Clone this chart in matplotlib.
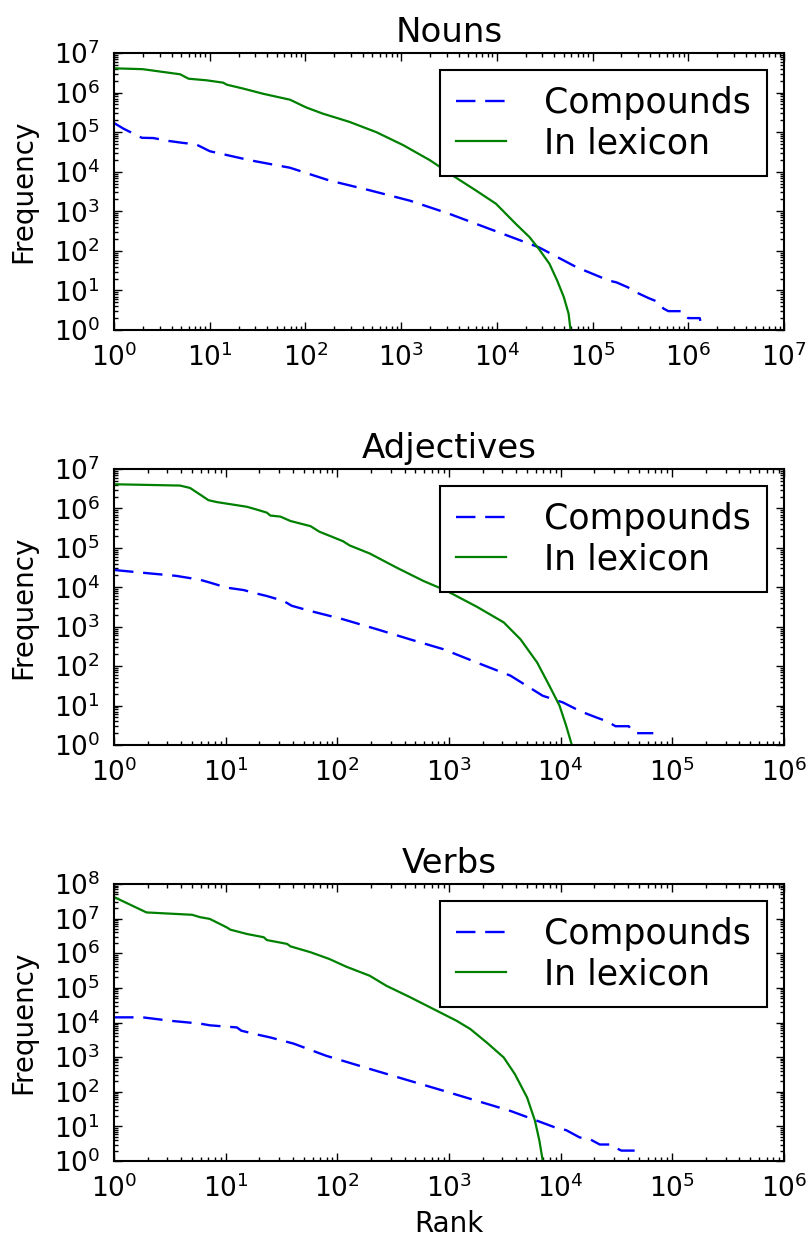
import numpy as np
import matplotlib
matplotlib.use('Agg')
import matplotlib.pyplot as plt
from matplotlib import ticker

# values (rank, frequency)
nouns_comp_rank = [1, 1.25, 1.95, 2.57, 3.7, 5.1, 7.2, 8.9, 10, 26.3, 69, 178, 468, 1230,
                   3160, 8300, 27500, 67600, 1.48e5, 1.78e5, 2.34e5, 3.0e5, 3.8e5, 4.5e5,
                   5.0e5, 5.5e5, 6.2e5, 8.7e5, 9.5e5, 1.0e6, 1.32e6, 1.34e6]
nouns_comp_freq = [1.7e5, 1.23e5, 7.2e4, 7.1e4, 6.0e4, 5.4e4, 4.9e4, 3.8e4, 3.3e4, 1.95e4,
                   1.26e4, 6.0e3, 3.4e3, 1.86e3, 870, 363, 123, 39, 17.8, 16, 12, 8.5, 6.5,
                   5.5, 4.8, 3.5, 3, 3, 2.2, 2, 2, 1.7]
nouns_lex_rank = [1, 2.0, 3.3, 4.9, 6.0, 9.3, 13.8, 15.1, 22.4, 36.3, 69, 102, 151, 288,
                  550, 1050, 2000, 3700, 6000, 9800, 15800, 21900, 27500, 35500, 42700,
                  50100, 56200, 58900]
nouns_lex_freq = [4.1e6, 3.9e6, 3.3e6, 2.9e6, 2.24e6, 2.04e6, 1.78e6, 1.58e6, 1.26e6,
                  9.3e5, 6.6e5, 4.2e5, 2.95e5, 1.82e5, 1.0e5, 4.7e4, 1.95e4, 7.2e3, 3.4e3,
                  1.55e3, 480, 224, 112, 47, 17.8, 6.8, 2.6, 1]

adj_comp_rank = [1, 1.8, 3.6, 5.9, 7.2, 10.2, 14.5, 19.1, 23.4, 33, 39, 57.5, 112, 224,
                 447, 891, 1780, 3550, 6900, 10500, 13800, 15800, 20900, 26000, 31000,
                 40700, 46000, 67600]
adj_comp_freq = [2.75e4, 2.34e4, 1.95e4, 1.55e4, 1.32e4, 9.8e3, 8.5e3, 6.9e3, 6.0e3, 4.5e3,
                 3.4e3, 2.5e3, 1.55e3, 870, 479, 269, 123, 57.5, 17.8, 12, 8.1, 6.8, 5, 4,
                 3, 3, 2, 2]
adj_lex_rank = [1, 3.9, 4.8, 5.9, 7.0, 8.3, 15.5, 19.1, 23.4, 25.1, 30.9, 38, 57.5, 69,
                112, 129, 195, 339, 589, 955, 1780, 3090, 4370, 6170, 7940, 9770, 11200,
                12600]
adj_lex_freq = [4.1e6, 3.8e6, 3.3e6, 2.24e6, 1.62e6, 1.45e6, 1.1e6, 9.3e5, 7.8e5, 6.6e5,
                6.2e5, 4.8e5, 3.55e5, 2.57e5, 1.48e5, 1.15e5, 7.2e4, 3.16e4, 1.45e4, 8.1e3,
                3.2e3, 1.29e3, 480, 123, 31.6, 10, 3.1, 1]

verb_comp_rank = [1, 1.8, 3.2, 5.9, 7.2, 12.6, 13.8, 19.1, 25.1, 40.7, 79, 224, 891, 3550,
                  6170, 9100, 11200, 14800, 18200, 22400, 28000, 32000, 35000, 46000]
verb_comp_freq = [1.41e4, 1.41e4, 1.12e4, 9.3e3, 8.3e3, 7.2e3, 5.8e3, 4.5e3, 3.7e3, 2.45e3,
                  1.1e3, 400, 107, 28, 14.5, 9.1, 7.8, 4.8, 4.3, 3, 3, 2.3, 2, 2]
verb_lex_rank = [1, 1.95, 5.0, 5.9, 7.2, 10.2, 11, 15.5, 21.9, 23.4, 35.5, 38, 57.5, 85,
                 120, 195, 275, 447, 676, 1170, 1550, 2190, 3090, 3890, 5010, 5890, 6460,
                 6920]
verb_lex_freq = [4.2e7, 1.51e7, 1.29e7, 1.1e7, 9.8e6, 5.6e6, 4.8e6, 3.6e6, 2.9e6, 2.4e6,
                 1.86e6, 1.58e6, 1.07e6, 6.8e5, 4.1e5, 2.24e5, 1.15e5, 5.4e4, 2.75e4,
                 1.12e4, 6.5e3, 2.6e3, 980, 324, 68, 14.5, 3.8, 1]

titles = ['Nouns', 'Adjectives', 'Verbs']
xmax = [1e7, 1e6, 1e6]
ymax = [1e7, 1e7, 1e8]

plt.rcParams['lines.scale_dashes'] = False
plt.rcParams['axes.linewidth'] = 1.5

fig = plt.figure(figsize=(8.09, 12.44), dpi=100)
boxes = [[0.141, 0.7347, 0.828, 0.2227],
         [0.141, 0.4011, 0.828, 0.2219],
         [0.141, 0.0667, 0.828, 0.2227]]
data = [(nouns_comp_rank, nouns_comp_freq, nouns_lex_rank, nouns_lex_freq),
        (adj_comp_rank, adj_comp_freq, adj_lex_rank, adj_lex_freq),
        (verb_comp_rank, verb_comp_freq, verb_lex_rank, verb_lex_freq)]

for i in range(3):
    ax = fig.add_axes(boxes[i])
    cr, cf, lr, lf = data[i]
    ax.plot(cr, cf, color='b', linestyle='--', dashes=(14, 7), lw=1.7, label='Compounds')
    ax.plot(lr, lf, color='g', lw=1.6, label='In lexicon')
    ax.set_xscale('log')
    ax.set_yscale('log')
    ax.set_xlim(1, xmax[i])
    ax.set_ylim(1, ymax[i])
    ax.set_title(titles[i], fontsize=24.5, pad=8)
    ax.set_ylabel('Frequency', fontsize=20, labelpad=12)
    ax.tick_params(which='both', direction='in', top=True, right=True, labelsize=19)
    ax.tick_params(axis='x', which='major', pad=9.5)
    ax.tick_params(axis='y', which='major', pad=10)
    ax.tick_params(which='major', length=6, width=1)
    ax.tick_params(which='minor', length=3, width=1)
    ax.xaxis.set_major_locator(ticker.LogLocator(base=10, numticks=20))
    ax.yaxis.set_major_locator(ticker.LogLocator(base=10, numticks=20))
    ax.xaxis.set_minor_locator(ticker.LogLocator(base=10, subs=np.arange(2, 10), numticks=20))
    ax.yaxis.set_minor_locator(ticker.LogLocator(base=10, subs=np.arange(2, 10), numticks=20))
    ax.xaxis.set_minor_formatter(ticker.NullFormatter())
    ax.yaxis.set_minor_formatter(ticker.NullFormatter())
    leg = ax.legend(loc='upper right', fontsize=25, fancybox=False, framealpha=1,
                    edgecolor='black', handlelength=1.45, handletextpad=1.1,
                    labelspacing=0.18, borderpad=0.45)
    leg.get_frame().set_linewidth(1.5)
    if i == 2:
        ax.set_xlabel('Rank', fontsize=20, labelpad=5)

plt.savefig('out.png', dpi=100)
